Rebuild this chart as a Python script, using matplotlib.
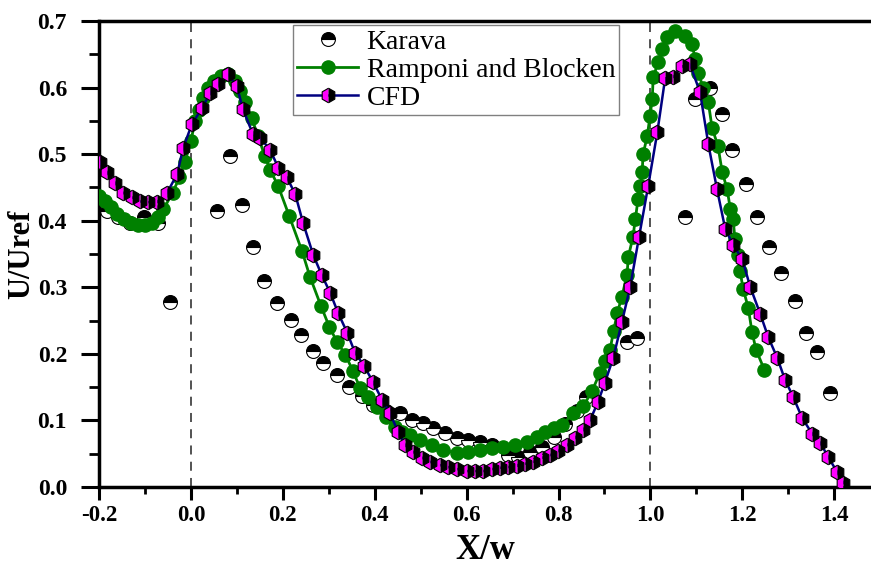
import numpy as np
import matplotlib
matplotlib.use("Agg")
from matplotlib import pyplot as plt
from matplotlib.ticker import MultipleLocator

# Karava (experiment)
karava_x = [-0.183, -0.159, -0.133, -0.102, -0.072, -0.045, 0.057, 0.085, 0.111, 0.135,
            0.159, 0.187, 0.218, 0.24, 0.266, 0.288, 0.318, 0.344, 0.372, 0.396,
            0.425, 0.455, 0.481, 0.505, 0.527, 0.553, 0.579, 0.603, 0.629, 0.655,
            0.69, 0.712, 0.738, 0.764, 0.79, 0.815, 0.84, 0.86, 0.949, 0.971,
            1.076, 1.097, 1.13, 1.156, 1.178, 1.208, 1.232, 1.258, 1.285, 1.315,
            1.339, 1.363, 1.391]
karava_y = [0.415, 0.406, 0.397, 0.405, 0.396, 0.278, 0.414, 0.497, 0.424, 0.36,
            0.309, 0.277, 0.251, 0.229, 0.205, 0.187, 0.169, 0.151, 0.137, 0.123,
            0.115, 0.111, 0.101, 0.096, 0.089, 0.081, 0.074, 0.071, 0.068, 0.063,
            0.048, 0.045, 0.053, 0.06, 0.075, 0.095, 0.115, 0.135, 0.218, 0.224,
            0.406, 0.583, 0.599, 0.561, 0.506, 0.455, 0.405, 0.361, 0.321, 0.279,
            0.232, 0.203, 0.141]

# Ramponi and Blocken
ramp_x = [-0.2, -0.188, -0.175, -0.16, -0.145, -0.13, -0.115, -0.1, -0.085, -0.072,
          -0.06, -0.04, -0.025, -0.013, 0.0, 0.009, 0.018, 0.027, 0.037, 0.05,
          0.065, 0.081, 0.095, 0.106, 0.118, 0.132, 0.146, 0.161, 0.172, 0.19,
          0.214, 0.242, 0.259, 0.283, 0.301, 0.318, 0.336, 0.352, 0.368, 0.385,
          0.405, 0.425, 0.444, 0.46, 0.477, 0.499, 0.525, 0.549, 0.579, 0.603,
          0.629, 0.655, 0.679, 0.705, 0.731, 0.753, 0.771, 0.79, 0.808, 0.832,
          0.854, 0.873, 0.89, 0.902, 0.912, 0.92, 0.928, 0.938, 0.949, 0.952,
          0.962, 0.967, 0.973, 0.978, 0.982, 0.984, 0.993, 0.999, 1.004, 1.006,
          1.017, 1.026, 1.036, 1.054, 1.076, 1.091, 1.097, 1.104, 1.115, 1.126,
          1.134, 1.147, 1.156, 1.167, 1.174, 1.18, 1.184, 1.19, 1.195, 1.202,
          1.213, 1.221, 1.23, 1.248]
ramp_y = [0.437, 0.43, 0.42, 0.41, 0.402, 0.396, 0.393, 0.393, 0.397, 0.405,
          0.417, 0.442, 0.465, 0.488, 0.52, 0.55, 0.567, 0.585, 0.6, 0.61,
          0.617, 0.62, 0.61, 0.595, 0.578, 0.555, 0.527, 0.497, 0.477, 0.452,
          0.407, 0.354, 0.316, 0.272, 0.241, 0.218, 0.199, 0.175, 0.149, 0.135,
          0.12, 0.105, 0.09, 0.083, 0.078, 0.071, 0.063, 0.056, 0.051, 0.053,
          0.056, 0.059, 0.06, 0.063, 0.068, 0.075, 0.083, 0.088, 0.093, 0.111,
          0.122, 0.144, 0.172, 0.19, 0.206, 0.235, 0.262, 0.286, 0.319, 0.346,
          0.376, 0.402, 0.432, 0.452, 0.473, 0.5, 0.527, 0.557, 0.583, 0.616,
          0.638, 0.658, 0.676, 0.685, 0.677, 0.665, 0.643, 0.622, 0.6, 0.578,
          0.54, 0.512, 0.474, 0.447, 0.417, 0.402, 0.372, 0.348, 0.324, 0.297,
          0.269, 0.233, 0.206, 0.176]

# CFD
cfd_x = [-0.198, -0.183, -0.165, -0.148, -0.128, -0.111, -0.093, -0.074, -0.052, -0.03,
         -0.017, 0.002, 0.024, 0.042, 0.059, 0.081, 0.1, 0.113, 0.135, 0.15,
         0.172, 0.19, 0.209, 0.227, 0.244, 0.266, 0.285, 0.303, 0.32, 0.34,
         0.357, 0.377, 0.396, 0.416, 0.433, 0.451, 0.466, 0.483, 0.503, 0.52,
         0.542, 0.56, 0.579, 0.601, 0.618, 0.636, 0.655, 0.673, 0.69, 0.71,
         0.727, 0.745, 0.764, 0.782, 0.799, 0.819, 0.836, 0.854, 0.869, 0.886,
         0.901, 0.919, 0.938, 0.956, 0.975, 0.995, 1.015, 1.032, 1.05, 1.069,
         1.086, 1.108, 1.126, 1.145, 1.163, 1.18, 1.2, 1.217, 1.239, 1.256,
         1.276, 1.293, 1.311, 1.33, 1.352, 1.37, 1.387, 1.406, 1.42]
cfd_y = [0.488, 0.473, 0.457, 0.442, 0.435, 0.429, 0.428, 0.428, 0.442, 0.47,
         0.509, 0.545, 0.569, 0.592, 0.605, 0.62, 0.602, 0.568, 0.53, 0.525,
         0.507, 0.48, 0.465, 0.44, 0.397, 0.349, 0.318, 0.292, 0.262, 0.232,
         0.202, 0.182, 0.158, 0.131, 0.111, 0.083, 0.063, 0.053, 0.044, 0.038,
         0.033, 0.03, 0.027, 0.024, 0.024, 0.024, 0.027, 0.029, 0.03, 0.032,
         0.035, 0.038, 0.044, 0.048, 0.054, 0.063, 0.074, 0.086, 0.101, 0.128,
         0.157, 0.194, 0.248, 0.301, 0.375, 0.452, 0.533, 0.614, 0.616, 0.632,
         0.635, 0.593, 0.515, 0.447, 0.387, 0.364, 0.342, 0.301, 0.26, 0.226,
         0.194, 0.161, 0.135, 0.104, 0.08, 0.066, 0.045, 0.023, 0.006]

x_ticks = [-0.2, 0.0, 0.2, 0.4, 0.6, 0.8, 1.0, 1.2, 1.4]
x_ticklabels = ['-0.2', '0.0', '0.2', '0.4', '0.6', '0.8', '1.0', '1.2', '1.4']
y_ticks = [0.0, 0.1, 0.2, 0.3, 0.4, 0.5, 0.6, 0.7]
y_ticklabels = ['0.0', '0.1', '0.2', '0.3', '0.4', '0.5', '0.6', '0.7']

plt.rcParams['font.family'] = ['Liberation Serif', 'DejaVu Serif']

fig = plt.figure(figsize=(8.71, 5.69), dpi=100)
ax = fig.add_axes([0.1137, 0.144, 0.8863, 0.819])

ax.axvline(0.0, color='#444444', ls='--', lw=1.3, dashes=(5, 4), zorder=1)
ax.axvline(1.0, color='#444444', ls='--', lw=1.3, dashes=(5, 4), zorder=1)

ax.plot(karava_x, karava_y, ls='none', marker='o', ms=10, fillstyle='top',
        markerfacecolor='black', markerfacecoloralt='white',
        markeredgecolor='black', markeredgewidth=0.8, label='Karava', zorder=2)
ax.plot(ramp_x, ramp_y, color='#008000', lw=2, marker='o', ms=9.5,
        markerfacecolor='#008000', markeredgecolor='#008000',
        label='Ramponi and Blocken', zorder=3)
ax.plot(cfd_x, cfd_y, color='#000080', lw=1.8, marker='h', ms=10.5, fillstyle='left',
        markerfacecolor='#ff00ff', markerfacecoloralt='black',
        markeredgecolor='black', markeredgewidth=0.8, label='CFD', zorder=4)

ax.set_xlim(-0.2, 1.48)
ax.set_ylim(0.0, 0.7)
ax.set_xticks(x_ticks)
ax.set_xticklabels(x_ticklabels)
ax.set_yticks(y_ticks)
ax.set_yticklabels(y_ticklabels)
ax.xaxis.set_minor_locator(MultipleLocator(0.1))
ax.yaxis.set_minor_locator(MultipleLocator(0.05))

ax.spines['right'].set_visible(False)
for s in ['left', 'bottom', 'top']:
    ax.spines[s].set_linewidth(2.5)
ax.tick_params(axis='x', which='major', direction='out', length=9, width=2.2,
               labelsize=16.5, pad=4)
ax.tick_params(axis='y', which='major', direction='out', length=13, width=2.2,
               labelsize=17, pad=10)
ax.tick_params(axis='x', which='minor', direction='out', length=5, width=2)
ax.tick_params(axis='y', which='minor', direction='out', length=7, width=2)
for lab in ax.get_xticklabels() + ax.get_yticklabels():
    lab.set_fontweight('bold')

ax.set_xlabel('X/w', fontsize=25, fontweight='bold', labelpad=6)
fig.text(22 / 871, 0.5 * (0.144 + 0.963), 'U/Uref', fontsize=22, fontweight='bold',
         rotation=90, ha='center', va='center')

leg = ax.legend(loc='upper left', bbox_to_anchor=(293 / 871, 1 - 25 / 569),
                bbox_transform=fig.transFigure, borderaxespad=0,
                fontsize=20, frameon=True, fancybox=False, framealpha=1,
                edgecolor='#808080', handlelength=2.2, handletextpad=0.3,
                labelspacing=0.1, borderpad=0.15)
leg.get_frame().set_linewidth(1.0)

fig.savefig('out.png', dpi=100)
